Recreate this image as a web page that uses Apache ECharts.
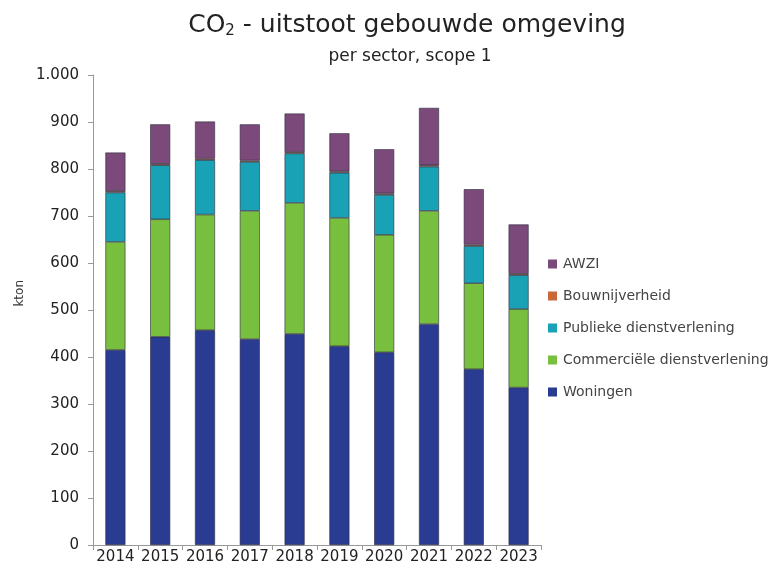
<!DOCTYPE html>
<html><head><meta charset="utf-8">
<script src="https://cdn.jsdelivr.net/npm/echarts@6/dist/echarts.min.js"></script>
<style>html,body{margin:0;padding:0;background:#fff}#c{width:769px;height:569px}</style>
</head><body><div id="c"></div>
<script>
const years = ['2014','2015','2016','2017','2018','2019','2020','2021','2022','2023'];
const woningen = [415,443,457,438,449,423,410,470,374,335];
const commercieel = [230,250,246,273,279,273,250,241,183,167];
const publiek = [105,115,116,104,105,96,85,94,79,72];
const bouw = [3,3,3,3,3,3,3,3,3,3];
const awzi = [82,84,79,77,82,81,94,122,118,105];
const yTicks = [0,100,200,300,400,500,600,700,800,900,1000];

const chart = echarts.init(document.getElementById('c'));
const font = 'DejaVu Sans, Liberation Sans, Arial, sans-serif';
function s(name, data, color){
  return {name, type:'bar', stack:'t', data, barWidth:20,
    itemStyle:{color, borderColor:'#2a2a3a', borderWidth:0.6}};
}
chart.setOption({
  animation:false,
  textStyle:{fontFamily:font},
  title:[{
    text:'{a|CO}{s|2}{a| - uitstoot gebouwde omgeving}',
    left:402, top:7, textAlign:'center',
    textStyle:{fontWeight:'normal',rich:{a:{fontSize:25,color:'#222',fontFamily:font,fontWeight:'normal'},s:{fontSize:15,color:'#222',fontFamily:font,fontWeight:'normal',padding:[12,0,0,0]}}}
  },{
    text:'per sector, scope 1', left:405, top:43, textAlign:'center',
    textStyle:{fontSize:17,color:'#222',fontWeight:'normal',fontFamily:font}
  }],
  legend:{
    orient:'vertical', left:543, top:252, itemWidth:9, itemHeight:9, itemGap:18,
    icon:'rect',
    itemStyle:{borderWidth:0},
    data:['AWZI','Bouwnijverheid','Publieke dienstverlening','Commerciële dienstverlening','Woningen'],
    textStyle:{fontSize:14,color:'#444',fontFamily:font, padding:[0,0,0,1]}
  },
  graphic:[{type:'text',left:14,top:280,rotation:Math.PI/2,
    style:{text:'kton',fontSize:12,fill:'#333',fontFamily:font}}],
  grid:{left:93,right:228,top:75,bottom:24},
  xAxis:{type:'category',data:years,
    axisLine:{lineStyle:{color:'#999'}},
    axisTick:{show:true,alignWithLabel:false,lineStyle:{color:'#999'}},
    axisLabel:{color:'#222',fontSize:15,margin:5,interval:0}},
  yAxis:{type:'value',min:0,max:1000,interval:100,
    axisLine:{show:true,lineStyle:{color:'#999'}},
    axisTick:{show:true,inside:false,length:5,lineStyle:{color:'#999'}},
    splitLine:{show:false},
    axisLabel:{color:'#222',fontSize:15,margin:14,
      formatter:v=>yTicks.includes(v)?(v>=1000?String(v).replace(/(\d)(\d{3})$/,'$1.$2'):String(v)):''}},
  series:[
    s('Woningen',woningen,'#2a3c92'),
    s('Commerciële dienstverlening',commercieel,'#79bf3f'),
    s('Publieke dienstverlening',publiek,'#19a2b6'),
    s('Bouwnijverheid',bouw,'#c9693a'),
    s('AWZI',awzi,'#7c4a7a')
  ]
});
</script></body></html>
